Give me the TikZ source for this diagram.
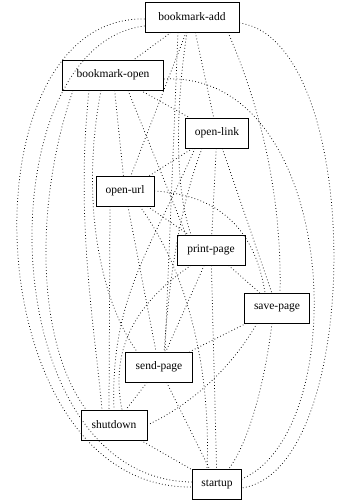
\documentclass[tikz,border=0pt]{standalone}
\usepackage{fontspec}
\setmainfont{Liberation Serif}
\usepackage{tikz}

\begin{document}
\begin{tikzpicture}[
  x=1pt, y=-1pt,
  box/.style={draw, line width=0.8pt, font=\fontsize{11.5}{13}\selectfont, minimum height=30pt, inner sep=2pt},
  edge/.style={line width=0.75pt, dash pattern=on 0.75pt off 2.4pt, black}
]
  \useasboundingbox (0,0) rectangle (339,502);
  \node[box, minimum width=94pt] (add) at (192,17) {bookmark-add};
  \node[box, minimum width=101pt] (open) at (113,75) {bookmark-open};
  \node[box, minimum width=63pt] (link) at (217,133) {open-link};
  \node[box, minimum width=58pt] (url) at (125,191) {open-url};
  \node[box, minimum width=68pt] (print) at (211,250) {print-page};
  \node[box, minimum width=65pt] (save) at (277,308) {save-page};
  \node[box, minimum width=67pt] (send) at (159,367) {send-page};
  \node[box, minimum width=66pt] (shutdown) at (114,425) {shutdown};
  \node[box, minimum width=49pt] (startup) at (217,484) {startup};

  \draw[edge] (add) -- (open);
  \draw[edge] (add) -- (link);
  \draw[edge] (add) -- (url);
  \draw[edge] ([xshift=-14pt]add.south) -- ([xshift=6pt]send.north);
  \draw[edge] ([xshift=-5pt]add.south) .. controls (178,90) and (172,180) .. ([xshift=-20pt]print.north);
  \draw[edge] ([xshift=36pt]add.south) .. controls (262,110) and (282,200) .. ([xshift=3pt]save.north);
  \draw[edge] ([yshift=-2pt]add.west) .. controls (-40,15) and (-25,490) .. ([yshift=-3pt]startup.west);
  \draw[edge] ([yshift=-9pt]add.west) .. controls (-15,45) and (-10,480) .. ([yshift=2pt]startup.west);
  \draw[edge] ([yshift=-6pt]add.east) .. controls (365,40) and (365,470) .. ([yshift=-4pt]startup.east);

  \draw[edge] (open) -- (link);
  \draw[edge] (open) -- (url);
  \draw[edge] ([xshift=15pt]open.south) -- ([xshift=-25pt]print.north);
  \draw[edge] ([yshift=-4pt]open.east) .. controls (340,70) and (355,430) .. ([yshift=5pt]startup.east);
  \draw[edge] ([xshift=-12pt]open.south) .. controls (80,200) and (100,300) .. ([xshift=-22pt]send.north);
  \draw[edge] ([xshift=-24pt]open.south) .. controls (75,220) and (95,330) .. ([xshift=-12pt]shutdown.north);
  \draw[edge] ([xshift=-40pt]open.south) .. controls (35,200) and (35,340) .. ([xshift=-28pt]shutdown.north);

  \draw[edge] (link) -- (url);
  \draw[edge] (link) -- (print);
  \draw[edge] (link) -- (save);
  \draw[edge] ([xshift=-15pt]link.south) .. controls (175,220) and (168,300) .. ([xshift=5pt]send.north);
  \draw[edge] ([xshift=-22pt]link.south) .. controls (150,250) and (110,300) .. (shutdown.north);

  \draw[edge] (url) -- (print);
  \draw[edge] (url.east) .. controls (220,195) and (255,230) .. ([xshift=-12pt]save.north);
  \draw[edge] (url) -- (send);
  \draw[edge] ([xshift=-15pt]url.south) -- ([xshift=-5pt]shutdown.north);
  \draw[edge] ([xshift=15pt]url.south) .. controls (200,290) and (210,400) .. ([xshift=-10pt]startup.north);

  \draw[edge] (print) -- (save);
  \draw[edge] (print) -- (send);
  \draw[edge] ([xshift=-20pt]print.south) .. controls (125,310) and (112,360) .. ([xshift=8pt]shutdown.north);
  \draw[edge] (print) -- (startup);

  \draw[edge] (save) -- (send);
  \draw[edge] ([xshift=-20pt]save.south) .. controls (230,370) and (190,405) .. (shutdown.east);
  \draw[edge] ([xshift=-5pt]save.south) .. controls (265,380) and (250,440) .. ([xshift=12pt]startup.north);

  \draw[edge] (send) -- (shutdown);
  \draw[edge] (send) -- (startup);

  \draw[edge] (shutdown) -- (startup);
\end{tikzpicture}
\end{document}
